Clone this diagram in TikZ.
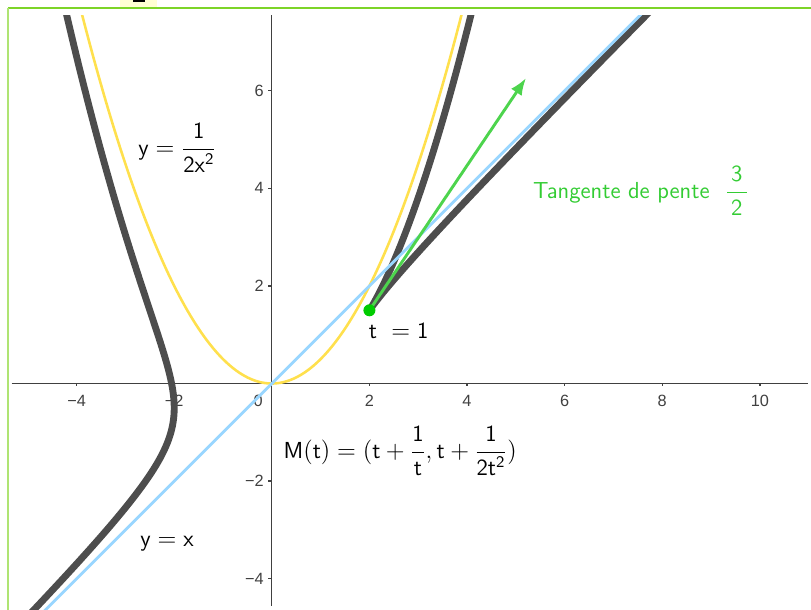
\documentclass[tikz,border=0pt]{standalone}
\usepackage{fontspec}
\newfontfamily\tickfont{Liberation Sans}
\usetikzlibrary{arrows.meta}
\definecolor{curvegray}{RGB}{77,77,77}
\definecolor{parab}{RGB}{255,224,77}
\definecolor{diag}{RGB}{153,214,255}
\definecolor{tang}{RGB}{77,212,77}
\definecolor{ptgreen}{RGB}{0,204,0}
\definecolor{labgreen}{RGB}{51,204,51}
\definecolor{frametop}{RGB}{125,212,40}
\definecolor{frameleft}{RGB}{175,228,115}
\definecolor{axiscol}{RGB}{64,64,64}
\definecolor{boxyellow}{RGB}{255,255,210}
\begin{document}
\begin{tikzpicture}[x=1cm,y=1cm,
  ticklab/.style={font=\tickfont\fontsize{9.5}{10}\selectfont, text=axiscol, inner sep=0pt},
  lbl/.style={font=\sffamily\fontsize{13.5}{16}\selectfont, inner sep=0pt},
  axisline/.style={draw=axiscol, line width=0.8pt},
  darkcurve/.style={draw=curvegray, line width=4pt, line cap=round, line join=round}]
\useasboundingbox (-5.570,-4.641) rectangle (11.049,7.859);
% frame
\draw[frametop, line width=0.9pt] (-5.41,7.69) -- (11.049,7.69);
\draw[frameleft, line width=0.9pt] (-5.41,7.69) -- (-5.41,-4.641);
\fill[boxyellow] (-3.11,7.715) rectangle (-2.35,7.859);
\fill[black] (-2.85,7.825) rectangle (-2.6,7.859);
% axes
\coordinate (xl) at (-5.33,0);
\coordinate (xr) at (10.99,0);
\coordinate (yb) at (0,-4.55);
\coordinate (yt) at (0,7.55);
\draw[axisline] (xl) -- (xr);
\draw[axisline] (yb) -- (yt);
\foreach \v/\s in {-4/−4,-2/−2,2/2,4/4,6/6,8/8,10/10}{
  \draw[axisline] (\v,0) -- (\v,-0.06);
  \node[ticklab] (xt\v) at (\v,-0.35) {\s};
}
\node[ticklab] (xt0) at (-0.28,-0.35) {0};
\foreach \v/\s in {-4/−4,-2/−2,2/2,4/4,6/6}{
  \draw[axisline] (0,\v) -- (-0.07,\v);
  \node[ticklab, anchor=east] (yt\v) at (-0.16,\v) {\s};
}
% curves
\begin{scope}
\clip (-5.40,-4.641) rectangle (11.049,7.55);
\draw[parab, line width=1.5pt] plot[domain=-4:4, samples=200] (\x,{\x*\x/2});
\draw[darkcurve] plot[domain=-5.3:-0.24, samples=600, variable=\t] ({\t+1/\t},{\t+1/(2*\t*\t)});
\draw[darkcurve] plot[domain=0.24:1, samples=400, variable=\t] ({\t+1/\t},{\t+1/(2*\t*\t)});
\draw[darkcurve] plot[domain=1:8, samples=300, variable=\t] ({\t+1/\t},{\t+1/(2*\t*\t)});
\draw[diag, line width=1.6pt] (-5,-5) -- (8,8);
\end{scope}
% tangent vector and point
\coordinate (P) at (2,1.5);
\coordinate (tip) at (5.21,6.26);
\draw[tang, line width=1.7pt, -{Latex[length=10pt,width=7.5pt]}] (P) -- (tip);
\node[circle, fill=ptgreen, minimum size=7pt, inner sep=0pt] (dot) at (P) {};
% labels
\node[lbl, anchor=base west] (lpar) at (-2.74,4.68) {$\displaystyle\mathsf{y}=\frac{\mathsf{1}}{\mathsf{2x^2}}$};
\node[lbl, anchor=base west] (ldiag) at (-2.70,-3.35) {$\mathsf{y}=\mathsf{x}$};
\node[lbl, anchor=base west] (lt) at (1.98,0.93) {$\mathsf{t}\ =\mathsf{1}$};
\node[lbl, anchor=base west] (lM) at (0.236,-1.53) {$\displaystyle\mathsf{M(t)}=(\mathsf{t}+\frac{\mathsf{1}}{\mathsf{t}},\mathsf{t}+\frac{\mathsf{1}}{\mathsf{2t^2}})$};
\node[lbl, anchor=base west, text=labgreen] (ltan) at (5.35,3.80) {Tangente de pente\hspace{9pt}$\displaystyle\frac{\,\mathsf{3}\,}{\,\mathsf{2}\,}$};
\end{tikzpicture}
\end{document}
